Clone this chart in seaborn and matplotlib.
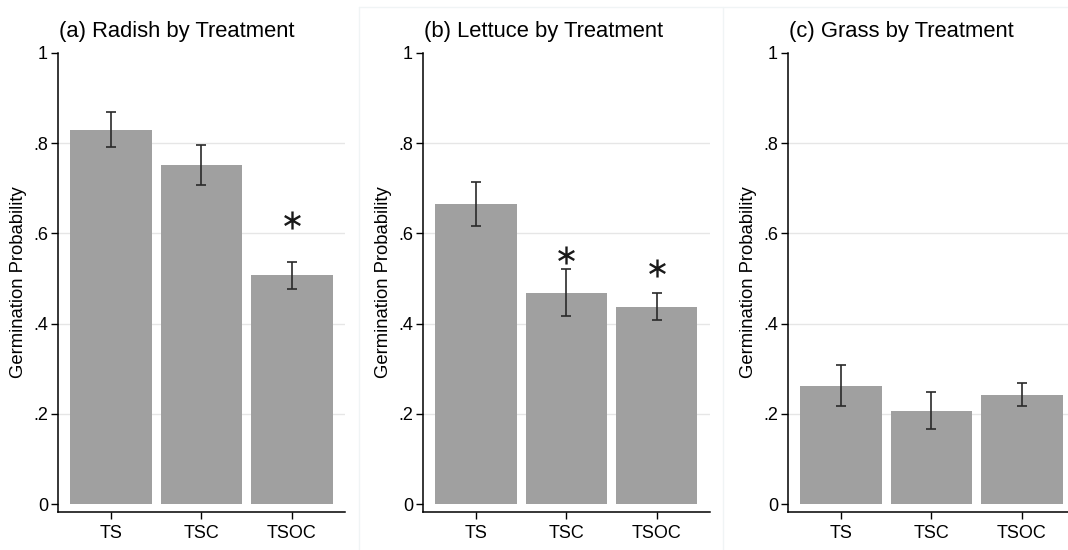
import matplotlib
matplotlib.use("Agg")
import matplotlib.pyplot as plt
from matplotlib.lines import Line2D
import seaborn as sns
import pandas as pd

sns.set_theme(style="white")
plt.rcParams["font.family"] = ["Liberation Sans", "DejaVu Sans"]

# Germination probabilities by treatment, with 95% CI bounds
treatments = ["TS", "TSC", "TSOC"]
titles = ["(a) Radish by Treatment", "(b) Lettuce by Treatment", "(c) Grass by Treatment"]

radish_mean = [0.829, 0.751, 0.507]
radish_lo = [0.791, 0.707, 0.477]
radish_hi = [0.868, 0.796, 0.537]

lettuce_mean = [0.666, 0.468, 0.438]
lettuce_lo = [0.617, 0.417, 0.409]
lettuce_hi = [0.714, 0.520, 0.468]

grass_mean = [0.263, 0.207, 0.243]
grass_lo = [0.218, 0.166, 0.217]
grass_hi = [0.308, 0.249, 0.268]

# Significance markers: (category index, height)
radish_stars = [(2, 0.629)]
lettuce_stars = [(1, 0.552), (2, 0.523)]
grass_stars = []

yticks = [0, 0.2, 0.4, 0.6, 0.8, 1.0]
yticklabels = ["0", ".2", ".4", ".6", ".8", "1"]

panels = [
    (radish_mean, radish_lo, radish_hi, radish_stars),
    (lettuce_mean, lettuce_lo, lettuce_hi, lettuce_stars),
    (grass_mean, grass_lo, grass_hi, grass_stars),
]

W, H = 1068, 550
fig = plt.figure(figsize=(W / 100, H / 100), dpi=100)
fig.patch.set_facecolor("white")

lefts_px = [57.7, 422.6, 787.7]
width_px = 287.5
top_px, bottom_px = 52.7, 512.0
ymin, ymax = -0.017, 1.0

bar_color = "#a0a0a0"
frame_color = "#f0f4f5"

# faint outer frames around the panels
for xpx in [358.5, 723.0]:
    fig.add_artist(Line2D([xpx / W, xpx / W], [0, 1 - 6.5 / H],
                          color=frame_color, lw=1.0, transform=fig.transFigure))
fig.add_artist(Line2D([358.5 / W, 1.0], [1 - 6.5 / H, 1 - 6.5 / H],
                      color=frame_color, lw=1.0, transform=fig.transFigure))

for (mean, lo, hi, stars), title, lpx in zip(panels, titles, lefts_px):
    ax = fig.add_axes([lpx / W, (H - bottom_px) / H, width_px / W, (bottom_px - top_px) / H])
    ax.set_facecolor("none")
    df = pd.DataFrame({"Treatment": treatments, "Probability": mean})
    sns.barplot(data=df, x="Treatment", y="Probability", color=bar_color,
                saturation=1, width=0.9, errorbar=None, ax=ax, zorder=2)
    for p in ax.patches:
        p.set_edgecolor("none")
    xs = list(range(len(treatments)))
    yerr = [[m - l for m, l in zip(mean, lo)], [h - m for m, h in zip(mean, hi)]]
    ax.errorbar(xs, mean, yerr=yerr, fmt="none", ecolor="#2a2a2a",
                elinewidth=1.2, capsize=3.5, capthick=1.2, zorder=3)
    for i, y in stars:
        ax.plot(i, y, marker=r"$\ast$", markersize=13, color="#1a1a1a",
                markeredgewidth=0, linestyle="none", zorder=4)

    ax.set_xlim(-0.59, 2.59)
    ax.set_ylim(ymin, ymax)
    ax.set_yticks(yticks)
    ax.set_yticklabels(yticklabels)
    for gy in yticks[1:-1]:
        ax.axhline(gy, color="#e6e6e6", lw=1.0, zorder=0)
    ax.set_xlabel("")
    ax.set_ylabel("Germination Probability", fontsize=13.3, labelpad=4, color="black")
    ax.tick_params(axis="both", which="both", length=5, width=1.0, color="black",
                   labelsize=13, labelcolor="black", direction="out",
                   left=True, bottom=True)
    ax.tick_params(axis="y", pad=2)
    ax.tick_params(axis="x", pad=4)
    for side in ["top", "right"]:
        ax.spines[side].set_visible(False)
    for side in ["left", "bottom"]:
        ax.spines[side].set_color("black")
        ax.spines[side].set_linewidth(1.1)
    ax.spines["left"].set_bounds(ymin, 1.0)
    fig.text((lpx + 1.5) / W, 1 - 37.5 / H, title, fontsize=15.8,
             ha="left", va="baseline", color="black")

fig.savefig("out.png", dpi=100, facecolor="white")
